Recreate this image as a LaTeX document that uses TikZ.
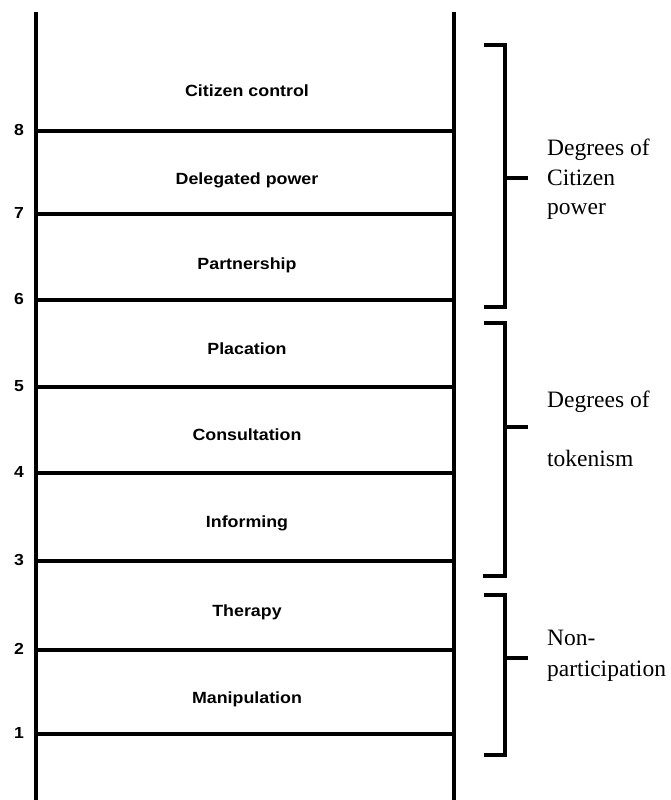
\documentclass[tikz,border=0pt]{standalone}
\usepackage{fontspec}
\setmainfont{Liberation Serif}
\newfontfamily\rungfont[FakeStretch=1.1]{Liberation Sans}
\begin{document}
\begin{tikzpicture}[x=1pt,y=-1pt,
  rail/.style={line width=3.5pt},
  rung/.style={line width=4.2pt},
  bracketline/.style={line width=4.6pt,line cap=butt,line join=miter},
  steplabel/.style={anchor=base,inner sep=0pt,font=\rungfont\bfseries\fontsize{16.2}{18}\selectfont},
  stepnum/.style={anchor=center,inner sep=0pt,font=\rungfont\bfseries\fontsize{16}{18}\selectfont},
  grouplabel/.style={anchor=base west,inner sep=0pt,font=\fontsize{23.5}{26}\selectfont}]
\useasboundingbox (0,0) rectangle (670,800);

% ladder rails
\draw[rail] (36,12) -- (36,800);
\draw[rail] (454,12) -- (454,800);

% rungs 8 .. 1 with their numbers
\foreach \n/\y in {8/131,7/214,6/300,5/387,4/473,3/561,2/650,1/734}{
  \draw[rung] (36,\y) -- (454,\y);
  \node[stepnum] (num\n) at (19,\y-1) {\n};
}

% rung labels
\node[steplabel] (citizen)   at (247,96)  {Citizen control};
\node[steplabel] (delegated) at (247,184) {Delegated power};
\node[steplabel] (partner)   at (247,269) {Partnership};
\node[steplabel] (placation) at (247,354) {Placation};
\node[steplabel] (consult)   at (247,440) {Consultation};
\node[steplabel] (inform)    at (247,527) {Informing};
\node[steplabel] (therapy)   at (247,616) {Therapy};
\node[steplabel] (manip)     at (247,703) {Manipulation};

% group brackets
\draw[bracketline] (484,45) -- (505,45) -- (505,307) -- (484,307);
\draw[bracketline] (505,178) -- (528,178);
\draw[bracketline] (484,323) -- (505,323) -- (505,576) -- (483,576);
\draw[bracketline] (505,427) -- (528,427);
\draw[bracketline] (484,595) -- (505,595) -- (505,755) -- (484,755);
\draw[bracketline] (505,658) -- (528,658);

% group labels
\node[grouplabel] (cp1) at (547,155) {Degrees of};
\node[grouplabel] (cp2) at (547,185) {Citizen};
\node[grouplabel] (cp3) at (547,214) {power};
\node[grouplabel] (tk1) at (547,407) {Degrees of};
\node[grouplabel] (tk2) at (547,466) {tokenism};
\node[grouplabel] (np1) at (547,645) {Non-};
\node[grouplabel] (np2) at (547,676) {participation};
\end{tikzpicture}
\end{document}
